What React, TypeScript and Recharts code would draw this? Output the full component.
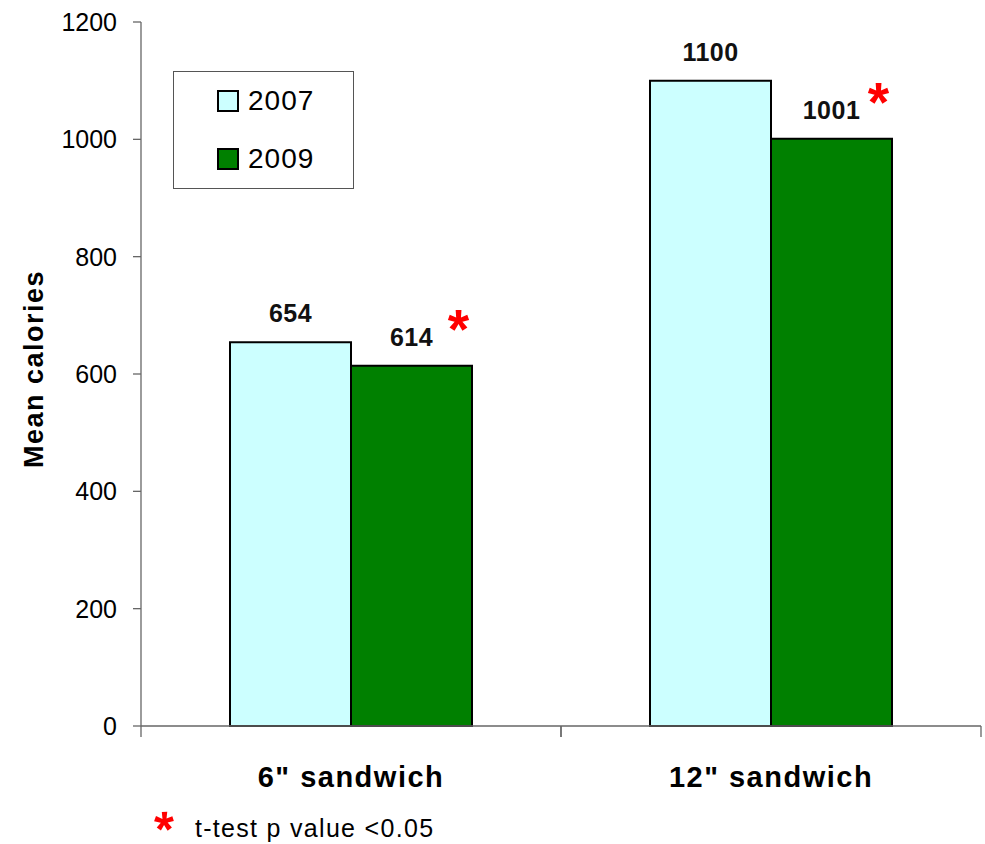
import React from 'react';
import { BarChart, Bar, XAxis, YAxis, Legend, LabelList, Customized } from 'recharts';

// Mean calories per sandwich size, 2007 vs 2009
const categories = ['6" sandwich', '12" sandwich'];
const calories2007 = [654, 1100];
const calories2009 = [614, 1001];
const significant2009 = [true, true];
const yTicks = [0, 200, 400, 600, 800, 1000, 1200];

const FONT = '"Liberation Sans", Arial, Helvetica, sans-serif';
const COLOR_2007 = '#CCFFFF';
const COLOR_2009 = '#008000';
const AXIS_COLOR = '#666666';
const STAR_COLOR = '#FF0000';

const data = categories.map((name, i) => ({
  name,
  y2007: calories2007[i],
  y2009: calories2009[i],
  sig: significant2009[i],
}));

const series = [
  { key: 'y2007', label: '2007', color: COLOR_2007 },
  { key: 'y2009', label: '2009', color: COLOR_2009 },
];

// Bold red five-armed asterisk centred on (cx, cy). The glyph is symmetric under
// a 144-degree turn, which lets the footnote star keep its text box on the page.
const Star = ({ cx, cy, size = 55, turn = 0 }: { cx: number; cy: number; size?: number; turn?: number }) => (
  <text
    transform={`translate(${cx} ${cy}) rotate(${turn}) scale(${size / 22})`}
    x={0}
    y={10.8}
    textAnchor="middle"
    fontFamily={FONT}
    fontWeight="bold"
    fontSize={22}
    fill={STAR_COLOR}
  >
    *
  </text>
);

// Category tick: boundary marks on both sides of the band plus the bold label
const CategoryTick = (props: any) => {
  const { x, y, payload } = props;
  const half = payload && typeof payload.offset === 'number' && payload.offset > 0 ? payload.offset : 210;
  return (
    <g>
      <line x1={x - half} y1={y} x2={x - half} y2={y + 11} stroke={AXIS_COLOR} strokeWidth={1.3} />
      <line x1={x + half} y1={y} x2={x + half} y2={y + 11} stroke={AXIS_COLOR} strokeWidth={1.3} />
      <text
        x={x}
        y={y + 61}
        textAnchor="middle"
        fontFamily={FONT}
        fontWeight="bold"
        fontSize={29}
        letterSpacing={1.5}
        fill="#000"
      >
        {payload.value}
      </text>
    </g>
  );
};

const valueLabel = (withStar: boolean) => (props: any) => {
  const { x, y, width, value, index } = props;
  const cx = x + width / 2;
  const showStar = withStar && data[index] && data[index].sig;
  return (
    <g>
      <text
        x={cx}
        y={y - 20}
        textAnchor="middle"
        fontFamily={FONT}
        fontWeight="bold"
        fontSize={25}
        letterSpacing={0.5}
        fill="#111"
      >
        {value}
      </text>
      {showStar && <Star cx={cx + 47} cy={y - 45} />}
    </g>
  );
};

const LegendBox = () => (
  <div
    style={{
      width: 181,
      height: 118,
      boxSizing: 'border-box',
      border: '1.3px solid #555',
      background: '#fff',
      fontFamily: FONT,
      position: 'relative',
    }}
  >
    {series.map((s, i) => (
      <div
        key={s.key}
        style={{
          position: 'absolute',
          left: 43,
          top: 17 + i * 58,
          display: 'flex',
          alignItems: 'center',
          height: 24,
        }}
      >
        <div
          style={{
            width: 22,
            height: 22,
            boxSizing: 'border-box',
            background: s.color,
            border: '2px solid #000',
          }}
        />
        <span style={{ marginLeft: 9, fontSize: 28, letterSpacing: 1, color: '#000', lineHeight: '24px' }}>
          {s.label}
        </span>
      </div>
    ))}
  </div>
);

const Footnote = () => (
  <g>
    <Star cx={164} cy={821} size={50} turn={144} />
    <text x={195} y={837} fontFamily={FONT} fontSize={25} letterSpacing={1.3} fill="#000">
      t-test p value &lt;0.05
    </text>
  </g>
);

export default function App() {
  return (
    <div style={{ position: 'absolute', left: 0, top: 0, width: 985, height: 844, background: '#fff' }}>
      <BarChart
        width={985}
        height={844}
        data={data}
        margin={{ top: 22, right: 4, bottom: 0, left: 0 }}
        barCategoryGap={89}
        barGap={0}
      >
        <XAxis
          dataKey="name"
          height={118}
          axisLine={{ stroke: AXIS_COLOR, strokeWidth: 1.3 }}
          tickLine={false}
          tickSize={0}
          tickMargin={0}
          tick={<CategoryTick />}
          interval={0}
        />
        <YAxis
          width={141}
          domain={[0, 1200]}
          ticks={yTicks}
          interval={0}
          axisLine={{ stroke: AXIS_COLOR, strokeWidth: 1.3 }}
          tickLine={{ stroke: AXIS_COLOR, strokeWidth: 1.3 }}
          tickSize={8}
          tickMargin={16}
          tick={{ fill: '#000', fontSize: 25, fontFamily: FONT }}
          label={{
            content: () => (
              <text
                transform="translate(43, 369) rotate(-90)"
                textAnchor="middle"
                fontFamily={FONT}
                fontWeight="bold"
                fontSize={27}
                letterSpacing={1.5}
                fill="#000"
              >
                Mean calories
              </text>
            ),
          }}
        />
        <Legend
          layout="vertical"
          align="center"
          verticalAlign="middle"
          content={<LegendBox />}
          wrapperStyle={{ position: 'absolute', left: 173, top: 71, width: 181, height: 118 }}
        />
        <Bar dataKey="y2007" name="2007" fill={COLOR_2007} stroke="#000" strokeWidth={2} isAnimationActive={false}>
          <LabelList dataKey="y2007" content={valueLabel(false)} />
        </Bar>
        <Bar dataKey="y2009" name="2009" fill={COLOR_2009} stroke="#000" strokeWidth={2} isAnimationActive={false}>
          <LabelList dataKey="y2009" content={valueLabel(true)} />
        </Bar>
        <Customized component={Footnote} />
      </BarChart>
    </div>
  );
}
